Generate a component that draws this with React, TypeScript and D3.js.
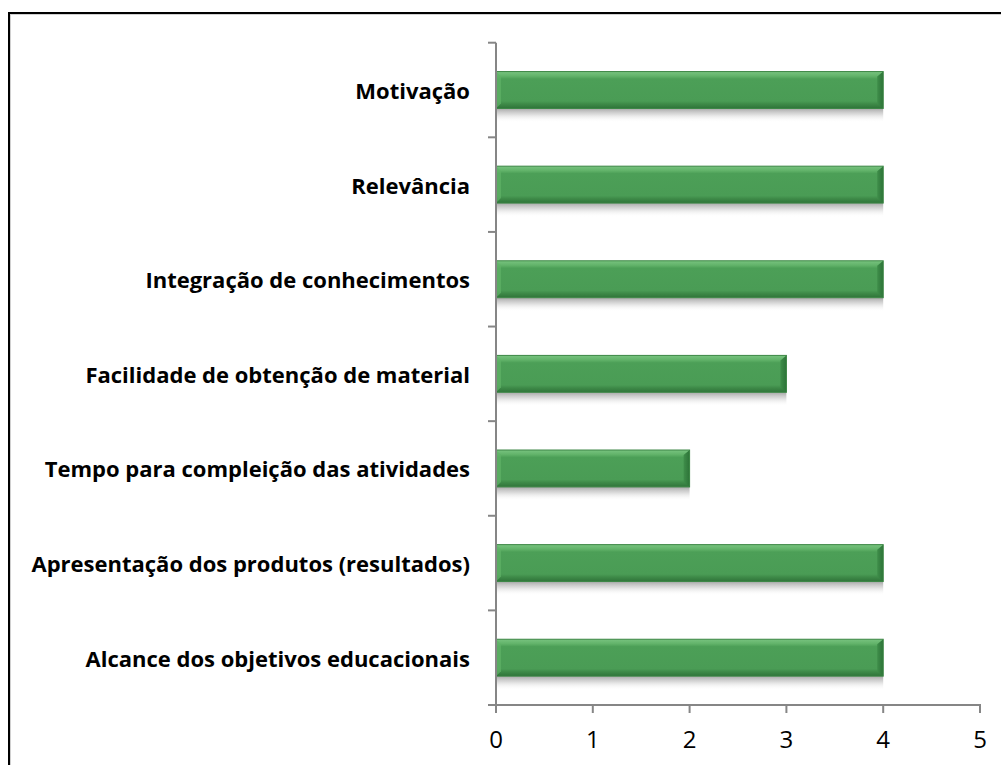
import React from "react";
import { scaleBand, scaleLinear } from "d3";

const categories = [
  "Motivação",
  "Relevância",
  "Integração de conhecimentos",
  "Facilidade de obtenção de material",
  "Tempo para compleição das atividades",
  "Apresentação dos produtos (resultados)",
  "Alcance dos objetivos educacionais",
];
const values = [4, 4, 4, 3, 2, 4, 4];
const xTicks = [0, 1, 2, 3, 4, 5];

const width = 1001;
const height = 765;
const plot = { left: 496, right: 980, top: 42.7, bottom: 705 };

const App = () => {
  const x = scaleLinear().domain([0, 5]).range([plot.left, plot.right]);
  const y = scaleBand()
    .domain(categories)
    .range([plot.top, plot.bottom])
    .paddingInner(0.61)
    .paddingOuter(0.305);
  const bw = y.bandwidth();
  const step = y.step();
  const axisColor = "#868686";

  return (
    <div style={{ position: "absolute", left: 0, top: 0 }}>
      <svg width={width} height={height} style={{ display: "block" }}>
        <defs>
          <linearGradient id="barFill" x1="0" y1="0" x2="0" y2="1">
            <stop offset="0" stopColor="#78c37f" />
            <stop offset="0.12" stopColor="#62b36a" />
            <stop offset="0.2" stopColor="#4c9f57" />
            <stop offset="0.8" stopColor="#4a9c55" />
            <stop offset="0.88" stopColor="#3e8a48" />
            <stop offset="1" stopColor="#2f7439" />
          </linearGradient>
          <linearGradient id="shadow" x1="0" y1="0" x2="0" y2="1">
            <stop offset="0" stopColor="#8a8a8a" stopOpacity="0.75" />
            <stop offset="0.4" stopColor="#b5b5b5" stopOpacity="0.5" />
            <stop offset="1" stopColor="#ffffff" stopOpacity="0" />
          </linearGradient>
          <linearGradient id="rightEdge" x1="0" y1="0" x2="1" y2="0">
            <stop offset="0" stopColor="#3f8e4a" />
            <stop offset="1" stopColor="#2d7338" />
          </linearGradient>
        </defs>

        {/* outer frame */}
        <rect x={10} y={14} width={1000} height={760} fill="none" stroke="#d0d0d0" strokeWidth={2} />
        <rect x={9} y={13} width={1000} height={760} fill="none" stroke="#000" strokeWidth={2} />

        {/* bars */}
        {categories.map((c, i) => {
          const y0 = y(c) as number;
          const x0 = x(0);
          const x1 = x(values[i]);
          const w = x1 - x0;
          return (
            <g key={c}>
              <rect x={x0} y={y0 + bw} width={w} height={14} fill="url(#shadow)" />
              <rect x={x0} y={y0} width={w} height={bw} fill="url(#barFill)" />
              <polygon
                points={`${x1 - 6},${y0 + 5} ${x1},${y0} ${x1},${y0 + bw} ${x1 - 6},${y0 + bw - 5}`}
                fill="url(#rightEdge)"
              />
              <polygon
                points={`${x0},${y0} ${x0 + 5},${y0 + 5} ${x0 + 5},${y0 + bw - 5} ${x0},${y0 + bw}`}
                fill="#5fb267"
                opacity={0.7}
              />
              <rect x={x0} y={y0} width={w} height={bw} fill="none" stroke="#3b8544" strokeWidth={1} />
            </g>
          );
        })}

        {/* y axis */}
        <line x1={plot.left} x2={plot.left} y1={plot.top} y2={plot.bottom} stroke={axisColor} strokeWidth={2} />
        {categories.concat([""]).map((_, i) => (
          <line
            key={i}
            x1={plot.left - 8}
            x2={plot.left}
            y1={plot.top + i * step}
            y2={plot.top + i * step}
            stroke={axisColor}
            strokeWidth={2}
          />
        ))}

        {/* x axis */}
        <line x1={plot.left - 8} x2={plot.right + 1} y1={plot.bottom} y2={plot.bottom} stroke={axisColor} strokeWidth={2} />
        {xTicks.map((t) => (
          <g key={t}>
            <line x1={x(t)} x2={x(t)} y1={plot.bottom} y2={plot.bottom + 8} stroke={axisColor} strokeWidth={2} />
            <text
              x={x(t)}
              y={738}
              textAnchor="middle"
              dominantBaseline="central"
              fontFamily="'Open Sans', sans-serif"
              fontSize={24}
              fill="#000"
            >
              {t}
            </text>
          </g>
        ))}

        {/* category labels */}
        {categories.map((c) => (
          <text
            key={c}
            x={470}
            y={(y(c) as number) + bw / 2}
            textAnchor="end"
            dominantBaseline="central"
            fontFamily="'Open Sans', sans-serif"
            fontWeight="bold"
            fontSize={22}
            fill="#000"
          >
            {c}
          </text>
        ))}
      </svg>
    </div>
  );
};

export default App;
